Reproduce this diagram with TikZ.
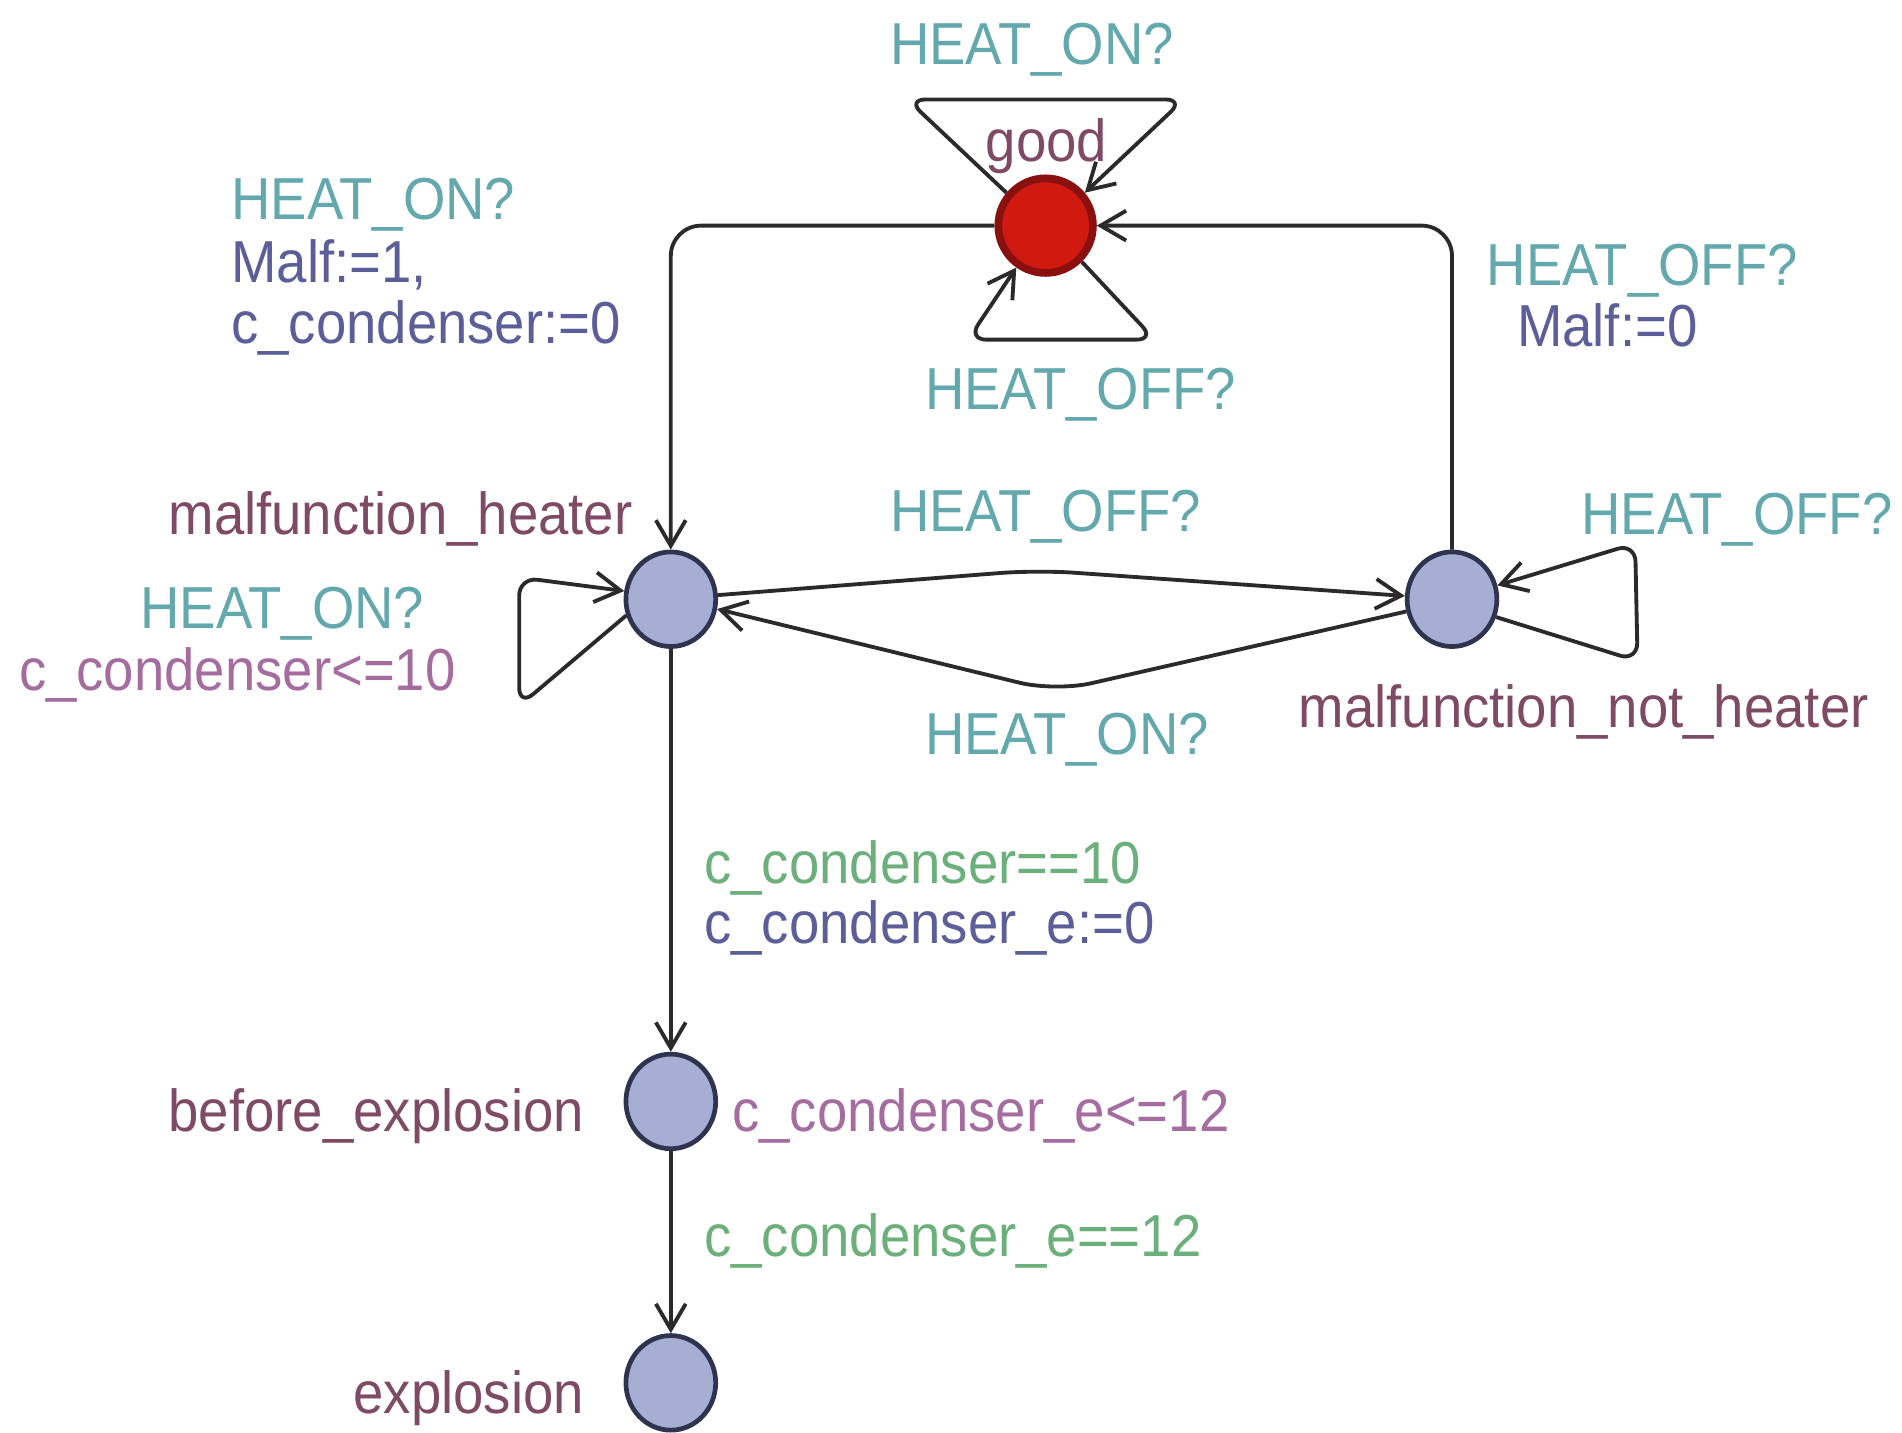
\documentclass[tikz,border=0pt]{standalone}
\usepackage{fontspec}
\setmainfont{Liberation Sans}[FakeStretch=0.92]
\usepackage{tikz}
\usetikzlibrary{arrows.meta,shapes.geometric}
\definecolor{sync}{HTML}{62A8AC}
\definecolor{upd}{HTML}{5B5E98}
\definecolor{locname}{HTML}{7E4A64}
\definecolor{inv}{HTML}{A56CA0}
\definecolor{guard}{HTML}{6BAF7A}
\definecolor{locfill}{HTML}{A7AED3}
\definecolor{locline}{HTML}{2E3350}
\definecolor{goodfill}{HTML}{D01A10}
\definecolor{goodline}{HTML}{8A1010}
\definecolor{edgec}{HTML}{2A2A2A}
\tikzset{
  loc/.style={ellipse, draw=locline, fill=locfill, line width=1.1pt, minimum width=0.74cm, minimum height=0.78cm, inner sep=0pt},
  initloc/.style={circle, draw=goodline, fill=goodfill, line width=1.8pt, minimum size=0.78cm, inner sep=0pt},
  trans/.style={draw=edgec, line width=0.9pt, -{Straight Barb[length=6pt,width=7pt]}},
  lab/.style={inner sep=0pt, anchor=base west, font=\fontsize{13.9}{16}\selectfont},
  chan/.style={lab, text=sync},
  assign/.style={lab, text=upd},
  lname/.style={lab, text=locname},
  invar/.style={lab, text=inv},
  grd/.style={lab, text=guard}
}
\begin{document}
\begin{tikzpicture}
  \useasboundingbox (0,0) rectangle (15.68,-11.81);

  % locations
  \node[initloc] (good) at (8.62,-1.86) {};
  \node[loc] (mh) at (5.53,-4.94) {};
  \node[loc] (mnh) at (11.97,-4.94) {};
  \node[loc] (be) at (5.53,-9.08) {};
  \node[loc] (expl) at (5.53,-11.40) {};

  % bends of the self loops and the two middle edges
  \coordinate (gtl) at (7.48,-0.82);
  \coordinate (gtr) at (9.76,-0.82);
  \coordinate (gbr) at (9.52,-2.80);
  \coordinate (gbl) at (7.98,-2.80);
  \coordinate (hlt) at (4.28,-4.76);
  \coordinate (hlb) at (4.28,-5.82);
  \coordinate (ntr) at (13.48,-4.48);
  \coordinate (nbr) at (13.50,-5.45);
  \coordinate (midtop) at (8.55,-4.70);
  \coordinate (midbot) at (8.70,-5.70);

  \draw[trans, rounded corners=0.15cm] (good.140) -- (gtl) -- (gtr) -- (good.40);
  \draw[trans, rounded corners=0.15cm] (good.-45) -- (gbr) -- (gbl) -- (good.-125);
  \draw[trans, rounded corners=0.25cm] (good.west) -| (mh.north);
  \draw[trans, rounded corners=0.25cm] (mnh.north) |- (good.east);
  \draw[trans, rounded corners=0.15cm] (mh.200) -- (hlb) -- (hlt) -- (mh.170);
  \draw[trans, rounded corners=0.15cm] (mnh.-22) -- (nbr) -- (ntr) -- (mnh.17);
  \draw[trans, rounded corners=0.3cm] (mh.5) -- (midtop) -- (mnh.176);
  \draw[trans, rounded corners=0.3cm] (mnh.-165) -- (midbot) -- (mh.-12);
  \draw[trans] (mh.south) -- (be.north);
  \draw[trans] (be.south) -- (expl.north);

  % names and labels
  \node[lname] (nGood) at (8.12,-1.33) {good};
  \node[lname, anchor=base east] (nMh) at (5.22,-4.41) {malfunction\_heater};
  \node[lname] (nMnh) at (10.70,-6.00) {malfunction\_not\_heater};
  \node[lname, anchor=base east] (nBe) at (4.82,-9.33) {before\_explosion};
  \node[lname, anchor=base east] (nExpl) at (4.82,-11.65) {explosion};

  \node[chan] (onTop) at (7.33,-0.53) {HEAT\_ON?};
  \node[chan] (offBot) at (7.62,-3.38) {HEAT\_OFF?};
  \node[chan] (onLeft) at (1.90,-1.81) {HEAT\_ON?};
  \node[assign] (setMalf) at (1.90,-2.33) {Malf:=1,};
  \node[assign] (setClk) at (1.90,-2.83) {c\_condenser:=0};
  \node[chan] (offRight) at (12.25,-2.35) {HEAT\_OFF?};
  \node[assign] (clrMalf) at (12.50,-2.86) {Malf:=0};
  \node[chan] (offMid) at (7.33,-4.38) {HEAT\_OFF?};
  \node[chan] (offLoop) at (13.03,-4.41) {HEAT\_OFF?};
  \node[chan] (onLoop) at (1.15,-5.18) {HEAT\_ON?};
  \node[invar] (invMh) at (0.15,-5.69) {c\_condenser<=10};
  \node[chan] (onMid) at (7.62,-6.22) {HEAT\_ON?};
  \node[grd] (grdTen) at (5.80,-7.28) {c\_condenser==10};
  \node[assign] (setClkE) at (5.80,-7.78) {c\_condenser\_e:=0};
  \node[invar] (invBe) at (6.03,-9.33) {c\_condenser\_e<=12};
  \node[grd] (grdTwelve) at (5.80,-10.36) {c\_condenser\_e==12};
\end{tikzpicture}
\end{document}
